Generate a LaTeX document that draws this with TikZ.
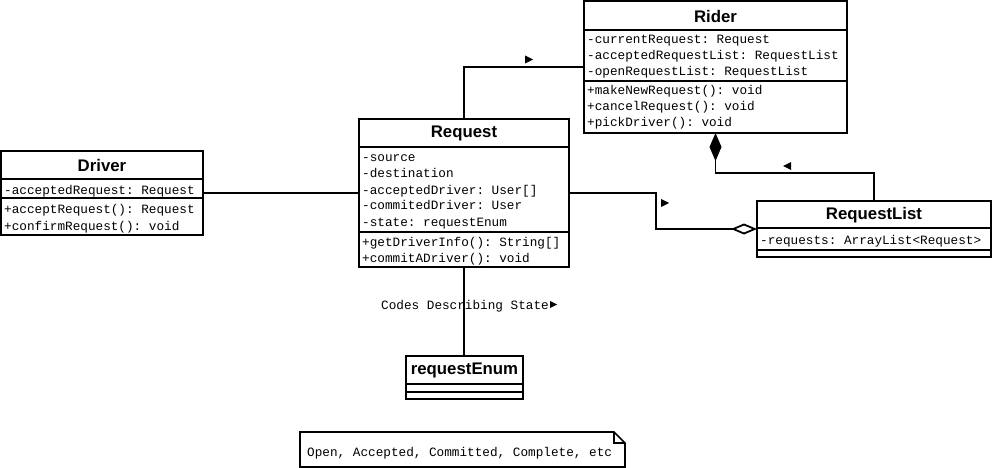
\documentclass[tikz,border=0pt]{standalone}
\usepackage{fontspec}
\setmainfont{Liberation Sans}
\setmonofont{Liberation Mono}
\usetikzlibrary{arrows.meta,calc}

\begin{document}
\begin{tikzpicture}[x=1pt,y=-1pt,
  classbox/.style={draw, line width=1.8pt, fill=white, anchor=north west,
    inner sep=0pt, outer sep=0pt},
  sepline/.style={line width=1.8pt},
  member/.style={anchor=west, inner sep=0pt,
    font=\ttfamily\fontsize{12.7}{14}\selectfont, text height=10pt, text depth=2pt},
  classtitle/.style={inner sep=0pt, font=\bfseries\fontsize{16.8}{18}\selectfont},
  link/.style={line width=1.8pt},
  navtip/.style={fill=black},
  composition/.style={-{Diamond[length=28pt, width=12pt]}},
  aggregation/.style={-{Diamond[open, length=26pt, width=11pt, fill=white]}}]

\useasboundingbox (0,0) rectangle (994,468);

% ---------- Rider ----------
\node[classbox, minimum width=263pt, minimum height=132pt] (rider) at (584,1) {};
\draw[sepline] ($(rider.north west)+(0,29)$) -- ($(rider.north east)+(0,29)$);
\draw[sepline] ($(rider.north west)+(0,80)$) -- ($(rider.north east)+(0,80)$);
\node[classtitle] (rider-title) at ($(rider.north)+(0,15)$) {Rider};
\node[member] (rider-a1) at (587,40) {-currentRequest: Request};
\node[member] (rider-a2) at (587,56) {-acceptedRequestList: RequestList};
\node[member] (rider-a3) at (587,72) {-openRequestList: RequestList};
\node[member] (rider-m1) at (587,91) {+makeNewRequest(): void};
\node[member] (rider-m2) at (587,107) {+cancelRequest(): void};
\node[member] (rider-m3) at (587,123) {+pickDriver(): void};

% ---------- Request ----------
\node[classbox, minimum width=210pt, minimum height=148pt] (request) at (359,119) {};
\draw[sepline] ($(request.north west)+(0,28)$) -- ($(request.north east)+(0,28)$);
\draw[sepline] ($(request.north west)+(0,113)$) -- ($(request.north east)+(0,113)$);
\node[classtitle] (request-title) at ($(request.north)+(0,14.5)$) {Request};
\node[member] (request-a1) at (362,158) {-source};
\node[member] (request-a2) at (362,174) {-destination};
\node[member] (request-a3) at (362,190) {-acceptedDriver: User[]};
\node[member] (request-a4) at (362,206) {-commitedDriver: User};
\node[member] (request-a5) at (362,222) {-state: requestEnum};
\node[member] (request-m1) at (362,242) {+getDriverInfo(): String[]};
\node[member] (request-m2) at (362,258) {+commitADriver(): void};

% ---------- Driver ----------
\node[classbox, minimum width=202pt, minimum height=84pt] (driver) at (1,151) {};
\draw[sepline] ($(driver.north west)+(0,28)$) -- ($(driver.north east)+(0,28)$);
\draw[sepline] ($(driver.north west)+(0,47)$) -- ($(driver.north east)+(0,47)$);
\node[classtitle] (driver-title) at ($(driver.north)+(0,14.5)$) {Driver};
\node[member] (driver-a1) at (4,190) {-acceptedRequest: Request};
\node[member] (driver-m1) at (4,210) {+acceptRequest(): Request};
\node[member] (driver-m2) at (4,226) {+confirmRequest(): void};

% ---------- RequestList ----------
\node[classbox, minimum width=234pt, minimum height=56pt] (reqlist) at (757,201) {};
\draw[sepline] ($(reqlist.north west)+(0,27)$) -- ($(reqlist.north east)+(0,27)$);
\draw[sepline] ($(reqlist.north west)+(0,49)$) -- ($(reqlist.north east)+(0,49)$);
\node[classtitle] (reqlist-title) at ($(reqlist.north)+(0,14.5)$) {RequestList};
\node[member] (reqlist-a1) at (760,240) {-requests: ArrayList<Request>};

% ---------- requestEnum ----------
\node[classbox, minimum width=117pt, minimum height=43pt] (reqenum) at (406,356) {};
\draw[sepline] ($(reqenum.north west)+(0,28)$) -- ($(reqenum.north east)+(0,28)$);
\draw[sepline] ($(reqenum.north west)+(0,36)$) -- ($(reqenum.north east)+(0,36)$);
\node[classtitle] (reqenum-title) at ($(reqenum.north)+(0,14.5)$) {requestEnum};

% ---------- Note ----------
\draw[line width=1.6pt, fill=white, line join=miter]
  (300,432) -- (614,432) -- (625,443) -- (625,467) -- (300,467) -- cycle;
\draw[line width=1.2pt] (614,432) -- (614,443) -- (625,443);
\node[member] (note) at (307,452) {Open, Accepted, Committed, Complete, etc};

% ---------- Connectors ----------
% Request -- Rider
\draw[link] (request.north) |- (rider.west);
\fill[navtip] (525,55.5) -- (533,59.5) -- (525,63.5) -- cycle;

% Driver -- Request
\draw[link] (driver.east) -- (request.west);

% Request -- RequestList (aggregation)
\coordinate (bend1) at (656,193);
\draw[link, aggregation] (request.east) -- (bend1) |- (reqlist.west);
\fill[navtip] (661,199) -- (669,203) -- (661,207) -- cycle;

% Rider <>-- RequestList (composition)
\draw[link, composition] (reqlist.north) -- ++(0,-28) -| (rider.south);
\fill[navtip] (791,162) -- (783,166) -- (791,170) -- cycle;

% Request -- requestEnum
\draw[link] (request.south) -- (request.south |- reqenum.north);
\node[member, anchor=center] (codes) at (465,305) {Codes Describing State};
\fill[navtip] ($(codes.east)+(1,-4)$) -- ($(codes.east)+(8,-0.5)$) -- ($(codes.east)+(1,3)$) -- cycle;

\end{tikzpicture}
\end{document}
